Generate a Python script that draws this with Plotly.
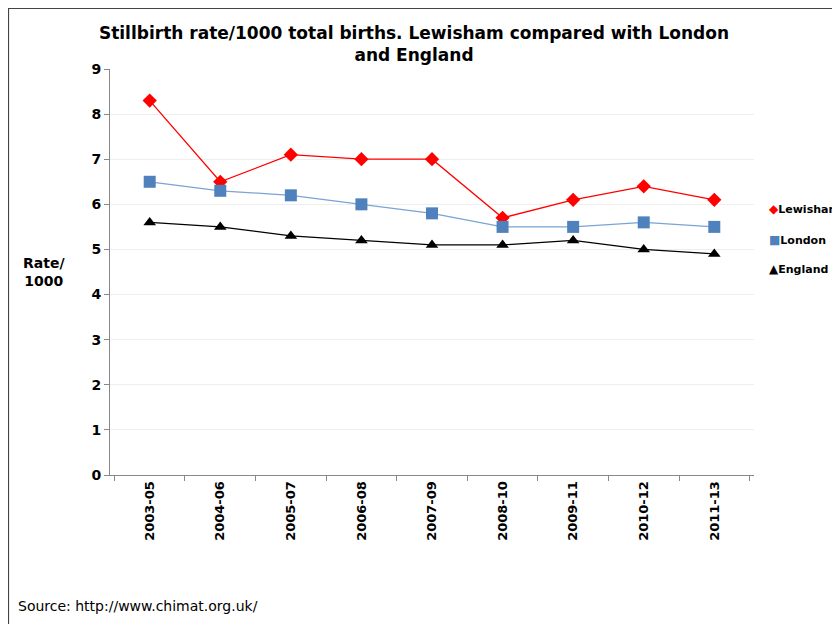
import plotly.graph_objects as go

periods = ["2003-05", "2004-06", "2005-07", "2006-08", "2007-09", "2008-10", "2009-11", "2010-12", "2011-13"]
lewisham = [8.3, 6.5, 7.1, 7.0, 7.0, 5.7, 6.1, 6.4, 6.1]
london = [6.5, 6.3, 6.2, 6.0, 5.8, 5.5, 5.5, 5.6, 5.5]
england = [5.6, 5.5, 5.3, 5.2, 5.1, 5.1, 5.2, 5.0, 4.9]

W, H = 840, 624
OFF = 8  # page body margin
# desired plot area in page pixels: x 110..754, y 69..475
ML, MT = 110 - OFF, 69 - OFF
MR = W - (754 - OFF)
MB = H - (475 - OFF)
PW, PH = W - ML - MR, H - MT - MB

def px(x):  # page pixel -> paper
    return (x - OFF - ML) / PW

def py(y):
    return 1 - (y - OFF - MT) / PH

series = [
    ("Lewisham", lewisham, "#FF0000", "#FF0000", "diamond", 11, "◆"),
    ("London", london, "#7AA3D6", "#4F81BD", "square", 12, "■"),
    ("England", england, "#000000", "#000000", "triangle-up", 11, "▲"),
]

fig = go.Figure()
for name, vals, lc, mc, sym, sz, glyph in series:
    fig.add_trace(go.Scatter(x=periods, y=vals, name=name, mode="lines+markers",
                             line=dict(color=lc, width=1.3), showlegend=False,
                             marker=dict(symbol=sym, size=sz, color=mc)))

font_b = "DejaVu Sans"

legend_y = [209, 240, 269]
annotations = []
for (name, vals, lc, mc, sym, sz, glyph), ly in zip(series, legend_y):
    annotations.append(dict(
        text=f"<span style='color:{mc};font-size:12px'>{glyph}</span>{name}",
        xref="paper", yref="paper", x=px(767), y=py(ly), xanchor="left", yanchor="middle",
        showarrow=False, font=dict(family=font_b, size=11, color="black", weight="bold")))

annotations += [
    dict(text="Rate/<br>1000", xref="paper", yref="paper", x=px(44), y=py(272),
         xanchor="center", yanchor="middle", showarrow=False,
         font=dict(family=font_b, size=14, color="black", weight="bold")),
    dict(text="Source: http://www.chimat.org.uk/", xref="paper", yref="paper",
         x=px(16), y=py(606), xanchor="left", yanchor="middle", showarrow=False,
         font=dict(family="DejaVu Sans", size=14, color="black")),
]

fig.update_layout(
    width=W, height=H,
    margin=dict(l=ML, r=MR, t=MT, b=MB, autoexpand=False),
    paper_bgcolor="white", plot_bgcolor="white",
    showlegend=False,
    title=dict(text="Stillbirth rate/1000 total births. Lewisham compared with London<br>and England",
               x=px(414), xref="paper", xanchor="center", y=1 - 31 / H, yanchor="top",
               font=dict(family="DejaVu Sans", size=17, color="black", weight="bold")),
    xaxis=dict(type="category", tickangle=-90, showline=True, linecolor="#888888",
               ticks="outside", tickson="boundaries", ticklen=5, tickcolor="#888888",
               showgrid=False,
               tickfont=dict(family=font_b, size=13, color="black", weight="bold")),
    yaxis=dict(range=[0, 9], dtick=1, showline=True, linecolor="#888888",
               ticks="outside", ticklen=5, tickcolor="#888888",
               gridcolor="#EEEEEE", zeroline=False,
               tickfont=dict(family=font_b, size=14, color="black", weight="bold")),
    shapes=[dict(type="rect", xref="paper", yref="paper", x0=px(8.5), y0=-2, x1=2, y1=py(8.5),
                 line=dict(color="#444444", width=1.2), fillcolor="rgba(0,0,0,0)", layer="below")],
    annotations=annotations,
)

fig.write_html("out.html")
